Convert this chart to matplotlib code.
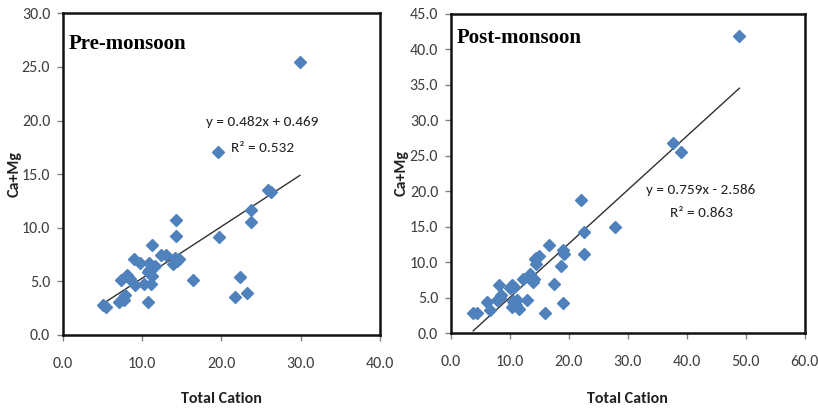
import matplotlib
matplotlib.use('Agg')
import matplotlib.pyplot as plt
from matplotlib import font_manager
import numpy as np

# Pre-monsoon samples (total cation vs Ca+Mg)
pre_total = [29.9, 19.6, 25.9, 26.3, 23.7, 23.7, 19.7, 14.3, 14.3, 11.3,
             12.4, 13.0, 13.9, 14.4, 14.6, 9.0, 9.8, 10.9, 10.9, 11.6,
             10.7, 11.2, 16.4, 22.3, 21.7, 23.2, 7.4, 8.1, 8.5, 9.1,
             10.3, 11.1, 10.8, 7.8, 7.7, 7.1, 5.1, 5.5, 14.1, 8.3]
pre_camg = [25.5, 17.1, 13.5, 13.3, 11.7, 10.5, 9.1, 10.7, 9.2, 8.4,
            7.5, 7.5, 6.6, 6.9, 7.1, 7.1, 6.7, 6.7, 6.1, 6.4,
            5.9, 5.5, 5.1, 5.4, 3.5, 3.9, 5.1, 5.6, 5.2, 4.7,
            4.8, 4.8, 3.1, 3.7, 3.3, 3.1, 2.8, 2.6, 7.2, 5.3]
pre_slope, pre_icpt, pre_r2 = 0.482, 0.469, 0.532

# Post-monsoon samples
post_total = [48.9, 37.6, 39.0, 22.1, 22.6, 27.9, 22.5, 16.7, 19.1, 19.2,
              18.6, 17.5, 19.0, 16.0, 15.0, 14.5, 14.2, 14.4, 13.4, 12.3,
              13.9, 14.1, 13.0, 10.3, 10.1, 8.2, 8.6, 7.9, 6.2, 6.7,
              10.6, 11.0, 10.8, 11.5, 11.3, 10.4, 3.8, 4.5, 8.3, 10.7]
post_camg = [41.9, 26.8, 25.5, 18.8, 14.3, 14.9, 11.2, 12.4, 11.7, 11.2,
             9.4, 6.9, 4.2, 2.8, 10.8, 10.6, 10.5, 9.8, 8.3, 7.6,
             7.2, 7.6, 4.7, 6.8, 6.3, 6.8, 5.3, 4.7, 4.4, 3.2,
             4.5, 3.9, 4.2, 3.4, 4.7, 3.7, 2.8, 2.8, 4.9, 6.5]
post_slope, post_icpt, post_r2 = 0.759, -2.586, 0.863

blue = '#4F81BD'


def pick(cands):
  have = {f.name for f in font_manager.fontManager.ttflist}
  for c in cands:
    if c in have:
      return c
  return 'DejaVu Sans'


sans = pick(['Carlito', 'Liberation Sans Narrow', 'Archivo Narrow', 'Roboto Condensed', 'DejaVu Sans'])
serif = pick(['Tinos', 'Liberation Serif', 'DejaVu Serif'])

fig = plt.figure(figsize=(8.18, 4.09), dpi=100)
ax1 = fig.add_axes([0.0767, 0.181, 0.3878, 0.7865])
ax2 = fig.add_axes([0.551, 0.1858, 0.433, 0.78])


def draw_panel(ax, xs, ys, slope, icpt, r2, xmax, ymax, title, title_y, eq_xy, sign, lab_xy):
  ax.plot(xs, ys, 'D', color=blue, ms=6.3, mec=blue, zorder=3)
  lx = np.array([min(xs), max(xs)])
  ax.plot(lx, slope * lx + icpt, color='#303030', lw=1.0, zorder=2)
  ax.set_xlim(0, xmax)
  ax.set_ylim(0, ymax)
  xt = np.arange(0, xmax + 1, 10)
  yt = np.arange(0, ymax + 0.1, 5)
  ax.set_xticks(xt)
  ax.set_yticks(yt)
  ax.set_xticklabels([f'{v:.1f}' for v in xt])
  ax.set_yticklabels([f'{v:.1f}' for v in yt])
  for lab in ax.get_xticklabels() + ax.get_yticklabels():
    lab.set_family(sans)
    lab.set_fontsize(11.5)
    lab.set_color('#404040')
  ax.tick_params(direction='out', length=4, width=1, color='#808080')
  ax.tick_params(axis='x', pad=12)
  ax.tick_params(axis='y', pad=5)
  for sp in ax.spines.values():
    sp.set_linewidth(1.8)
    sp.set_color('#111111')
  ax.set_xlabel('Total Cation', fontsize=11.5, fontweight='bold', family=sans, color='#202020')
  ax.xaxis.set_label_coords(0.5, lab_xy[1])
  ax.set_ylabel('Ca+Mg', fontsize=11.5, fontweight='bold', family=sans, color='#202020')
  ax.yaxis.set_label_coords(lab_xy[0], 0.5)
  ax.text(0.018, title_y, title, transform=ax.transAxes, ha='left', va='top',
          fontsize=15, fontweight='bold', family=serif)
  eq = f'y = {slope:.3f}x {sign} {abs(icpt):.3f}'
  ax.text(eq_xy[0], eq_xy[1], eq, ha='center', va='center', fontsize=11,
          family=sans, color='#202020')
  ax.text(eq_xy[0], eq_xy[2], f'R² = {r2:.3f}', ha='center', va='center', fontsize=11,
          family=sans, color='#202020')


draw_panel(ax1, pre_total, pre_camg, pre_slope, pre_icpt, pre_r2, 40, 30,
           'Pre-monsoon', 0.935, (25.2, 19.85, 17.4), '+', (-0.13, -0.177))
draw_panel(ax2, post_total, post_camg, post_slope, post_icpt, post_r2, 60, 45,
           'Post-monsoon', 0.955, (42.4, 20.2, 16.9), '-', (-0.12, -0.185))

fig.savefig('out.png', dpi=100)
